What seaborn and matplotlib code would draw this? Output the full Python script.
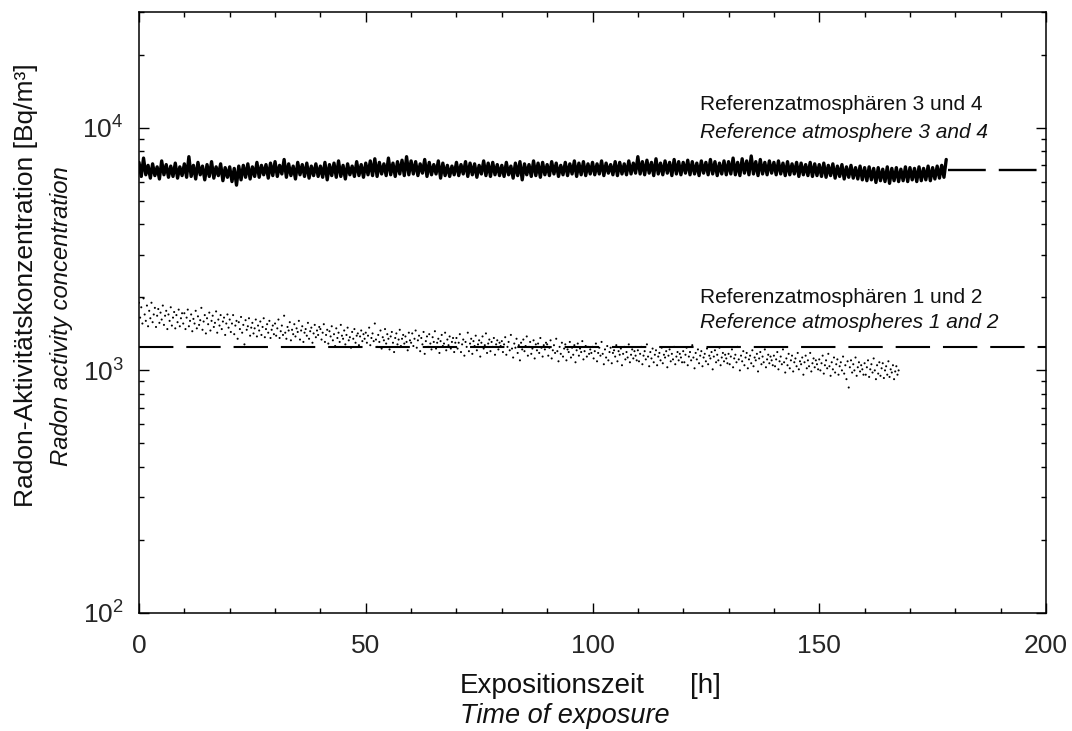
import numpy as np
import pandas as pd
import matplotlib
matplotlib.use("Agg")
import matplotlib.pyplot as plt
import matplotlib.ticker as mticker
import seaborn as sns

# ---------------- data ----------------
# Reference atmospheres 3 and 4 : radon concentration every 0.5 h [Bq/m3]
ref34_step_h = 0.5
ref34_values = [
    7200, 6300, 7500, 6400, 7000, 6200, 7100, 6350, 6900, 6150, 7300, 6400, 7050, 6250, 6950, 6300, 7150, 6200, 6900, 6350,
    7100, 6250, 7600, 6300, 7000, 6150, 7200, 6400, 6950, 6100, 7050, 6300, 7250, 6200, 6900, 6350, 7100, 6050, 6850, 6250,
    6900, 6000, 6800, 5800, 6950, 6100, 7000, 6250, 7100, 6150, 6900, 6300, 7200, 6250, 7000, 6400, 7050, 6200, 7150, 6350,
    7250, 6300, 7000, 6450, 7400, 6250, 7100, 6350, 6950, 6150, 7200, 6400, 7050, 6300, 7150, 6200, 6950, 6350, 7100, 6300,
    6950, 6250, 7200, 6100, 7050, 6350, 7150, 6250, 7300, 6300, 7000, 6150, 7100, 6400, 6950, 6300, 7250, 6350, 7050, 6250,
    7150, 6400, 7300, 6350, 7450, 6300, 7200, 6450, 7100, 6350, 7500, 6400, 7150, 6300, 7250, 6450, 7350, 6350, 7600, 6400,
    7300, 6450, 7250, 6350, 7100, 6500, 7400, 6300, 7200, 6400, 7050, 6450, 7300, 6200, 7150, 6350, 7000, 6300, 6950, 6400,
    7200, 6350, 7050, 6450, 7250, 6300, 7150, 6400, 7100, 6250, 7000, 6450, 7300, 6350, 7150, 6300, 7200, 6400, 7050, 6350,
    7000, 6300, 7200, 6400, 6950, 6200, 7150, 6350, 7250, 6100, 7100, 6400, 7050, 6300, 7300, 6350, 7150, 6250, 7200, 6400,
    7050, 6350, 7250, 6450, 7150, 6300, 7000, 6400, 7200, 6350, 7100, 6450, 7300, 6300, 7150, 6400, 7250, 6350, 7100, 6450,
    7200, 6400, 7100, 6450, 7300, 6350, 7150, 6500, 7050, 6400, 7250, 6350, 7200, 6450, 7100, 6400, 7300, 6450, 7150, 6500,
    7600, 6450, 7250, 6400, 7350, 6500, 7200, 6350, 7450, 6450, 7150, 6400, 7300, 6500, 7200, 6350, 7400, 6450, 7250, 6400,
    7200, 6500, 7350, 6400, 7250, 6450, 7150, 6350, 7300, 6500, 7200, 6400, 7400, 6450, 7250, 6350, 7150, 6450, 7300, 6400,
    7250, 6450, 7500, 6400, 7200, 6350, 7450, 6500, 7300, 6400, 7650, 6450, 7250, 6350, 7400, 6450, 7200, 6400, 7300, 6500,
    7200, 6400, 7300, 6450, 7150, 6350, 7250, 6400, 7100, 6450, 7200, 6300, 7150, 6400, 7050, 6350, 7200, 6300, 7100, 6350,
    7050, 6300, 7150, 6250, 7000, 6350, 7100, 6200, 6950, 6300, 7050, 6150, 6900, 6250, 7000, 6200, 6850, 6150, 6950, 6100,
    6850, 6050, 6900, 6100, 6800, 5950, 6850, 6050, 6750, 6000, 6900, 5900, 6800, 6050, 6850, 6000, 6750, 6050, 6900, 6000,
    6850, 6100, 6800, 6000, 6900, 6050, 6800, 6100, 6950, 6050, 6850, 6150, 6950, 6200, 7000, 6250, 7400,
]

# Reference atmospheres 1 and 2 : radon concentration every 0.25 h [Bq/m3]
ref12_step_h = 0.25
ref12_values = [
    1900, 1650, 1820, 1560, 1980, 1700, 1600, 1850, 1520, 1760, 1640, 1900, 1580, 1700, 1810, 1510, 1680, 1790, 1570, 1730,
    1620, 1850, 1540, 1680, 1760, 1480, 1700, 1600, 1820, 1530, 1650, 1740, 1490, 1690, 1580, 1780, 1520, 1640, 1720, 1560,
    1720, 1480, 1650, 1780, 1520, 1600, 1700, 1450, 1630, 1560, 1760, 1490, 1670, 1540, 1610, 1810, 1470, 1590, 1690, 1420,
    1640, 1550, 1730, 1460, 1600, 1680, 1510, 1570, 1750, 1430, 1620, 1530, 1690, 1480, 1590, 1650, 1400, 1560, 1700, 1500,
    1620, 1440, 1560, 1690, 1410, 1530, 1600, 1350, 1580, 1480, 1660, 1430, 1540, 1280, 1610, 1470, 1520, 1640, 1390, 1500,
    1570, 1420, 1490, 1620, 1380, 1530, 1460, 1590, 1400, 1510, 1640, 1370, 1480, 1550, 1430, 1600, 1360, 1470, 1530, 1410,
    1560, 1390, 1490, 1620, 1360, 1450, 1530, 1400, 1680, 1430, 1350, 1510, 1460, 1580, 1330, 1470, 1410, 1550, 1380, 1490,
    1440, 1600, 1340, 1460, 1520, 1310, 1430, 1480, 1390, 1570, 1350, 1450, 1500, 1300, 1420, 1540, 1370, 1460, 1400, 1510,
    1480, 1340, 1430, 1550, 1310, 1400, 1470, 1290, 1450, 1380, 1520, 1330, 1410, 1260, 1490, 1360, 1430, 1310, 1540, 1390,
    1350, 1460, 1280, 1400, 1500, 1330, 1370, 1240, 1440, 1350, 1480, 1300, 1390, 1420, 1270, 1380, 1460, 1320, 1410, 1350,
    1430, 1300, 1390, 1500, 1270, 1360, 1420, 1320, 1560, 1340, 1250, 1400, 1310, 1460, 1230, 1370, 1330, 1480, 1290, 1410,
    1350, 1220, 1380, 1440, 1300, 1190, 1360, 1420, 1280, 1340, 1470, 1260, 1350, 1400, 1290, 1380, 1310, 1210, 1430, 1330,
    1300, 1420, 1260, 1350, 1460, 1240, 1330, 1390, 1200, 1360, 1280, 1440, 1170, 1320, 1380, 1250, 1410, 1290, 1220, 1370,
    1310, 1450, 1230, 1300, 1350, 1180, 1320, 1400, 1260, 1290, 1430, 1210, 1340, 1270, 1380, 1230, 1310, 1360, 1190, 1300,
    1360, 1230, 1300, 1410, 1190, 1280, 1340, 1150, 1310, 1250, 1430, 1200, 1290, 1350, 1170, 1320, 1260, 1390, 1210, 1280,
    1330, 1140, 1300, 1380, 1230, 1270, 1420, 1180, 1290, 1340, 1200, 1310, 1250, 1360, 1160, 1280, 1330, 1220, 1300, 1260,
    1320, 1190, 1280, 1370, 1160, 1250, 1310, 1210, 1400, 1230, 1130, 1290, 1240, 1350, 1180, 1270, 1100, 1300, 1220, 1340,
    1200, 1260, 1380, 1150, 1250, 1310, 1170, 1230, 1330, 1120, 1280, 1210, 1290, 1180, 1360, 1240, 1140, 1270, 1220, 1300,
    1280, 1150, 1240, 1330, 1120, 1210, 1270, 1180, 1350, 1200, 1090, 1250, 1170, 1300, 1140, 1230, 1280, 1100, 1220, 1190,
    1310, 1130, 1240, 1160, 1270, 1080, 1210, 1290, 1150, 1230, 1190, 1320, 1110, 1200, 1260, 1140, 1250, 1170, 1220, 1180,
    1250, 1120, 1200, 1290, 1090, 1180, 1240, 1150, 1310, 1170, 1060, 1220, 1130, 1260, 1100, 1190, 1240, 1070, 1180, 1210,
    1140, 1270, 1090, 1200, 1160, 1230, 1050, 1170, 1250, 1110, 1190, 1130, 1280, 1080, 1160, 1220, 1120, 1200, 1150, 1100,
    1210, 1090, 1170, 1250, 1060, 1150, 1200, 1110, 1280, 1140, 1040, 1190, 1120, 1230, 1080, 1160, 1210, 1050, 1140, 1180,
    1100, 1240, 1070, 1160, 1130, 1200, 1030, 1150, 1220, 1090, 1170, 1110, 1250, 1060, 1140, 1190, 1100, 1170, 1130, 1080,
    1200, 1080, 1160, 1240, 1050, 1140, 1190, 1100, 1270, 1130, 1020, 1180, 1110, 1220, 1070, 1150, 1200, 1040, 1130, 1170,
    1090, 1230, 1060, 1150, 1120, 1190, 1010, 1140, 1210, 1080, 1160, 1100, 1240, 1050, 1130, 1180, 1090, 1160, 1120, 1070,
    1170, 1060, 1140, 1220, 1030, 1120, 1160, 1080, 1250, 1110, 1000, 1150, 1090, 1200, 1050, 1130, 1180, 1020, 1110, 1150,
    1070, 1210, 1040, 1130, 1100, 1170, 990, 1120, 1190, 1060, 1140, 1080, 1220, 1030, 1110, 1160, 1070, 1140, 1100, 1050,
    1150, 1040, 1110, 1190, 1010, 1090, 1140, 1060, 1220, 1080, 980, 1120, 1050, 1170, 1020, 1100, 1150, 990, 1080, 1120,
    1040, 1180, 1010, 1090, 1060, 1130, 960, 1080, 1150, 1020, 1100, 1040, 1180, 990, 1070, 1120, 1030, 1100, 1060, 1010,
    1110, 1000, 1070, 1150, 970, 1050, 1100, 1020, 1170, 1040, 950, 1080, 1010, 1130, 980, 1060, 1110, 960, 1040, 1080,
    1000, 1140, 970, 1050, 920, 1090, 850, 1030, 1100, 980, 1060, 1000, 1130, 950, 1030, 1080, 990, 1050, 1010, 960,
    1070, 960, 1030, 1100, 940, 1010, 1060, 980, 1120, 1000, 920, 1050, 970, 1080, 950, 1020, 1070, 930, 1000, 1040,
    960, 1090, 940, 1010, 980, 1050, 920, 990, 1040, 960, 1000,
]

# nominal reference levels (dashed lines) [Bq/m3]
ref34_level = 6700
ref12_level = 1250

x_limits = [0, 200]
y_limits = [100, 30000]
x_major = [0, 50, 100, 150, 200]

label_top_de = "Referenzatmosphären 3 und 4"
label_top_en = "Reference atmosphere 3 and 4"
label_bot_de = "Referenzatmosphären 1 und 2"
label_bot_en = "Reference atmospheres 1 and 2"
ylabel_de = "Radon-Aktivitätskonzentration [Bq/m³]"
ylabel_en = "Radon activity concentration"
xlabel_de = "Expositionszeit"
xlabel_unit = "[h]"
xlabel_en = "Time of exposure"

# ---------------- frames ----------------
df34 = pd.DataFrame({"t": np.arange(len(ref34_values)) * ref34_step_h,
                     "c": ref34_values})
df12 = pd.DataFrame({"t": np.arange(len(ref12_values)) * ref12_step_h,
                     "c": ref12_values})

# ---------------- style ----------------
sns.set_theme(style="ticks")
plt.rcParams["font.family"] = ["Liberation Sans", "DejaVu Sans"]
plt.rcParams["mathtext.fontset"] = "custom"
plt.rcParams["mathtext.rm"] = "Liberation Sans"
plt.rcParams["mathtext.it"] = "Liberation Sans:italic"
plt.rcParams["mathtext.bf"] = "Liberation Sans:bold"
plt.rcParams["text.color"] = "#111111"

W, H = 1072, 731
fig = plt.figure(figsize=(W / 100, H / 100), dpi=100)
ax = fig.add_axes([139 / W, 1 - 613 / H, (1046 - 139) / W, (613 - 12) / H])

# data
sns.lineplot(data=df34, x="t", y="c", ax=ax, color="black", linewidth=2.4,
             estimator=None, sort=False)
sns.scatterplot(data=df12, x="t", y="c", ax=ax, color="black", s=2.2,
                linewidth=0, edgecolor="none")

# reference level dashed lines
t34_end = df34["t"].max()
ax.hlines(ref34_level, t34_end + 0.5, x_limits[1], colors="black",
          linewidth=1.7, linestyles=(0, (16, 5.5)))
ax.hlines(ref12_level, x_limits[0], x_limits[1], colors="black",
          linewidth=1.5, linestyles=(0, (16.5, 6.2)))

# axes
ax.set_yscale("log")
ax.set_xlim(*x_limits)
ax.set_ylim(*y_limits)
ax.set_xticks(x_major)
ax.xaxis.set_minor_locator(mticker.MultipleLocator(10))
ax.yaxis.set_major_locator(mticker.LogLocator(base=10, numticks=10))
ax.yaxis.set_minor_locator(mticker.LogLocator(base=10, subs=np.arange(2, 10), numticks=20))
ax.yaxis.set_major_formatter(mticker.LogFormatterMathtext())
ax.yaxis.set_minor_formatter(mticker.NullFormatter())
ax.tick_params(which="both", direction="in", top=True, right=True,
               color="black", width=1.0)
ax.tick_params(which="major", length=7)
ax.tick_params(which="minor", length=3.8)
ax.tick_params(axis="x", which="major", labelsize=19, pad=15)
ax.tick_params(axis="y", which="major", labelsize=19, pad=11)
for sp in ax.spines.values():
    sp.set_visible(True)
    sp.set_color("black")
    sp.set_linewidth(1.1)
ax.set_xlabel("")
ax.set_ylabel("")
ax.grid(False)

# annotations
ann_fs = 15
fig.text(700 / W, 1 - 110 / H, label_top_de, fontsize=ann_fs, ha="left", va="baseline")
fig.text(700 / W, 1 - 138 / H, label_top_en, fontsize=ann_fs, ha="left", va="baseline",
         style="italic")
fig.text(700 / W, 1 - 303 / H, label_bot_de, fontsize=ann_fs, ha="left", va="baseline")
fig.text(700 / W, 1 - 328 / H, label_bot_en, fontsize=ann_fs, ha="left", va="baseline",
         style="italic")

# axis labels
fig.text(460 / W, 1 - 686 / H, xlabel_de, fontsize=20, ha="left", va="center")
fig.text(690 / W, 1 - 686 / H, xlabel_unit, fontsize=20, ha="left", va="center")
fig.text(460 / W, 1 - 716 / H, xlabel_en, fontsize=19.5, ha="left", va="center",
         style="italic")
fig.text(26 / W, 1 - 285 / H, ylabel_de, fontsize=19, rotation=90, ha="center", va="center")
fig.text(62 / W, 1 - 316 / H, ylabel_en, fontsize=17.2, rotation=90, ha="center", va="center",
         style="italic")

fig.savefig("out.png", dpi=100)
